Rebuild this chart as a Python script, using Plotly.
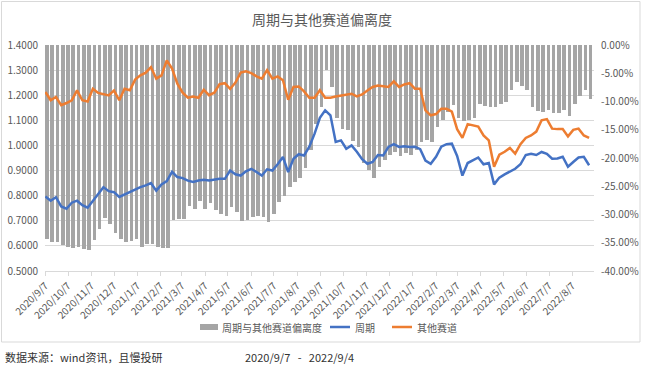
import plotly.graph_objects as go
import pandas as pd

# weekly observation dates (Mondays), 2020/9/7 - 2022/8/29
week_start = pd.date_range('2020-09-07', periods=104, freq='7D')

cycle = [
    0.797, 0.780, 0.794, 0.757, 0.748, 0.772, 0.780, 0.762, 0.752, 0.780,
    0.810, 0.834, 0.818, 0.814, 0.795, 0.805, 0.815, 0.824, 0.834, 0.841,
    0.850, 0.820, 0.845, 0.858, 0.895, 0.874, 0.870, 0.860, 0.855, 0.860,
    0.863, 0.860, 0.865, 0.867, 0.867, 0.900, 0.885, 0.880, 0.897, 0.907,
    0.894, 0.880, 0.905, 0.900, 0.925, 0.954, 0.894, 0.947, 0.965, 0.960,
    0.995, 1.047, 1.110, 1.140, 1.120, 1.014, 1.020, 0.987, 1.000, 0.975,
    0.945, 0.927, 0.934, 0.962, 0.960, 0.994, 1.005, 0.994, 0.997, 0.994,
    0.995, 0.985, 0.940, 0.927, 0.955, 0.995, 1.005, 1.007, 0.958, 0.880,
    0.930, 0.942, 0.952, 0.925, 0.930, 0.845, 0.872, 0.885, 0.895, 0.907,
    0.925, 0.962, 0.967, 0.962, 0.974, 0.967, 0.947, 0.948, 0.955, 0.915,
    0.934, 0.952, 0.955, 0.921,
]

others = [
    1.213, 1.180, 1.193, 1.160, 1.169, 1.180, 1.219, 1.180, 1.175, 1.226,
    1.209, 1.205, 1.199, 1.219, 1.180, 1.226, 1.220, 1.262, 1.279, 1.290,
    1.312, 1.266, 1.279, 1.339, 1.306, 1.246, 1.210, 1.190, 1.195, 1.190,
    1.222, 1.200, 1.210, 1.244, 1.248, 1.225, 1.250, 1.290, 1.295, 1.288,
    1.275, 1.266, 1.300, 1.266, 1.275, 1.260, 1.182, 1.233, 1.235, 1.215,
    1.190, 1.190, 1.220, 1.190, 1.190, 1.195, 1.199, 1.203, 1.206, 1.195,
    1.203, 1.219, 1.233, 1.239, 1.236, 1.233, 1.255, 1.233, 1.243, 1.248,
    1.226, 1.226, 1.140, 1.120, 1.125, 1.146, 1.146, 1.135, 1.065, 1.030,
    1.085, 1.080, 1.075, 1.040, 1.020, 0.915, 0.963, 0.975, 0.990, 0.967,
    1.005, 1.030, 1.040, 1.055, 1.100, 1.105, 1.067, 1.065, 1.065, 1.036,
    1.062, 1.067, 1.040, 1.030,
]

deviation_pct = [
    -34.4, -34.8, -34.9, -35.4, -35.8, -35.9, -35.8, -36.1, -36.2, -34.5,
    -32.5, -30.7, -31.6, -33.2, -34.3, -34.8, -34.7, -34.3, -35.7, -35.3,
    -35.3, -35.8, -36.0, -36.0, -31.0, -30.8, -30.8, -28.5, -29.0, -27.6,
    -29.0, -28.0, -29.2, -29.9, -30.2, -28.7, -29.6, -31.2, -31.0, -30.4,
    -30.2, -30.4, -31.3, -29.9, -27.8, -26.7, -25.1, -24.3, -23.5, -21.8,
    -18.6, -13.9, -11.0, -4.5, -7.5, -13.0, -14.8, -15.0, -17.0, -18.0,
    -20.8, -22.2, -23.5, -21.6, -20.3, -19.5, -18.9, -19.6, -19.2, -19.4,
    -18.6, -17.2, -16.8, -17.2, -14.5, -13.3, -11.9, -10.7, -13.0, -13.5,
    -13.3, -13.0, -10.5, -10.8, -11.0, -11.0, -10.5, -10.0, -8.0, -6.5,
    -7.2, -8.0, -11.0, -11.6, -11.9, -11.5, -12.0, -12.0, -11.5, -12.5,
    -10.5, -9.0, -8.0, -9.5,
]

x_tick_vals = [
    '2020-09-07', '2020-10-07', '2020-11-07', '2020-12-07', '2021-01-07', '2021-02-07',
    '2021-03-07', '2021-04-07', '2021-05-07', '2021-06-07', '2021-07-07', '2021-08-07',
    '2021-09-07', '2021-10-07', '2021-11-07', '2021-12-07', '2022-01-07', '2022-02-07',
    '2022-03-07', '2022-04-07', '2022-05-07', '2022-06-07', '2022-07-07', '2022-08-07',
]
x_tick_text = [
    '2020/9/7', '2020/10/7', '2020/11/7', '2020/12/7', '2021/1/7', '2021/2/7',
    '2021/3/7', '2021/4/7', '2021/5/7', '2021/6/7', '2021/7/7', '2021/8/7',
    '2021/9/7', '2021/10/7', '2021/11/7', '2021/12/7', '2022/1/7', '2022/2/7',
    '2022/3/7', '2022/4/7', '2022/5/7', '2022/6/7', '2022/7/7', '2022/8/7',
]
left_tick_vals = [0.5, 0.6, 0.7, 0.8, 0.9, 1.0, 1.1, 1.2, 1.3, 1.4]
left_tick_text = ['0.5000', '0.6000', '0.7000', '0.8000', '0.9000',
                  '1.0000', '1.1000', '1.2000', '1.3000', '1.4000']
right_tick_vals = [-0.40, -0.35, -0.30, -0.25, -0.20, -0.15, -0.10, -0.05, 0.0]
right_tick_text = ['-40.00%', '-35.00%', '-30.00%', '-25.00%', '-20.00%',
                   '-15.00%', '-10.00%', '-5.00%', '0.00%']

series_names = ['周期与其他赛道偏离度', '周期', '其他赛道']
series_colors = ['#A5A5A5', '#4472C4', '#ED7D31']

FONT = 'Noto Sans CJK SC'
DAY_MS = 86400000

bar_x = week_start + pd.Timedelta(days=2)
bar_y = [v / 100 for v in deviation_pct]

fig = go.Figure()
fig.add_trace(go.Bar(
    x=bar_x, y=bar_y, width=4.8 * DAY_MS, yaxis='y',
    marker=dict(color=series_colors[0], line=dict(width=0)),
    name=series_names[0], showlegend=False,
))
fig.add_trace(go.Scatter(
    x=week_start, y=cycle, yaxis='y2', mode='lines',
    line=dict(color=series_colors[1], width=2.5), name=series_names[1], showlegend=False,
))
fig.add_trace(go.Scatter(
    x=week_start, y=others, yaxis='y2', mode='lines',
    line=dict(color=series_colors[2], width=2.5), name=series_names[2], showlegend=False,
))

# hand-placed legend (swatches + labels) to mirror the reference layout
LEG_Y = -0.2478
legend_shapes = [
    dict(type='rect', xref='paper', yref='paper', x0=0.2823, x1=0.3151,
         y0=LEG_Y - 0.0133, y1=LEG_Y + 0.0133,
         fillcolor=series_colors[0], line=dict(width=0)),
    dict(type='line', xref='paper', yref='paper', x0=0.5191, x1=0.5556,
         y0=LEG_Y, y1=LEG_Y, line=dict(color=series_colors[1], width=2.5)),
    dict(type='line', xref='paper', yref='paper', x0=0.6321, x1=0.6685,
         y0=LEG_Y, y1=LEG_Y, line=dict(color=series_colors[2], width=2.5)),
]
legend_texts = [
    dict(text=series_names[0], x=0.3188),
    dict(text=series_names[1], x=0.5610),
    dict(text=series_names[2], x=0.6740),
]
legend_annotations = [
    dict(text=t['text'], xref='paper', yref='paper', x=t['x'], y=LEG_Y,
         xanchor='left', yanchor='middle', showarrow=False,
         font=dict(family=FONT, size=10, color='#595959'))
    for t in legend_texts
]

fig.update_layout(
    width=645, height=370,
    margin=dict(l=45, r=51, t=45, b=99, pad=0, autoexpand=False),
    paper_bgcolor='white', plot_bgcolor='white',
    font=dict(family=FONT, size=10, color='#595959'),
    bargap=0,
    showlegend=False,
    xaxis=dict(
        type='date', range=['2020-09-06 12:00', '2022-09-04 12:00'],
        tickmode='array', tickvals=x_tick_vals, ticktext=x_tick_text,
        tickangle=-45, showgrid=False, zeroline=False, automargin=False,
        showline=True, linecolor='#D9D9D9', linewidth=1,
        ticks='outside', tickcolor='#D9D9D9', ticklen=4,
        tickfont=dict(family=FONT, size=10, color='#595959'),
    ),
    yaxis=dict(
        side='right', range=[-0.4, 0], tickmode='array',
        tickvals=right_tick_vals, ticktext=right_tick_text,
        showgrid=False, zeroline=False, showline=False, automargin=False,
        ticklabelstandoff=6,
        tickfont=dict(family=FONT, size=10, color='#595959'),
    ),
    yaxis2=dict(
        side='left', overlaying='y', range=[0.5, 1.4], tickmode='array',
        tickvals=left_tick_vals, ticktext=left_tick_text,
        showgrid=True, gridcolor='#D9D9D9', gridwidth=1,
        zeroline=False, showline=False, automargin=False,
        ticklabelstandoff=6,
        tickfont=dict(family=FONT, size=10, color='#595959'),
    ),
    shapes=[dict(
        type='rect', xref='paper', yref='paper',
        x0=-0.0792, x1=1.0838, y0=-0.3142, y1=1.1925,
        line=dict(color='#D9D9D9', width=1), fillcolor='rgba(0,0,0,0)', layer='below',
    )] + legend_shapes,
    annotations=[
        dict(text='周期与其他赛道偏离度', xref='paper', yref='paper',
             x=0.5046, y=1.115, xanchor='center', yanchor='middle', showarrow=False,
             font=dict(family=FONT, size=14, color='#595959')),
        dict(text='数据来源：wind资讯，且慢投研', xref='paper', yref='paper',
             x=-0.0765, y=-0.381, xanchor='left', yanchor='middle', showarrow=False,
             font=dict(family=FONT, size=11, color='#333333')),
        dict(text='2020/9/7&nbsp;&nbsp;&nbsp;-&nbsp;&nbsp;&nbsp;2022/9/4', xref='paper', yref='paper',
             x=0.3607, y=-0.381, xanchor='left', yanchor='middle', showarrow=False,
             font=dict(family=FONT, size=11, color='#333333')),
    ] + legend_annotations,
)

fig.write_html(
    'out.html',
    config={'displayModeBar': False},
    post_script="document.body.style.margin='0';document.body.style.padding='0';",
)
